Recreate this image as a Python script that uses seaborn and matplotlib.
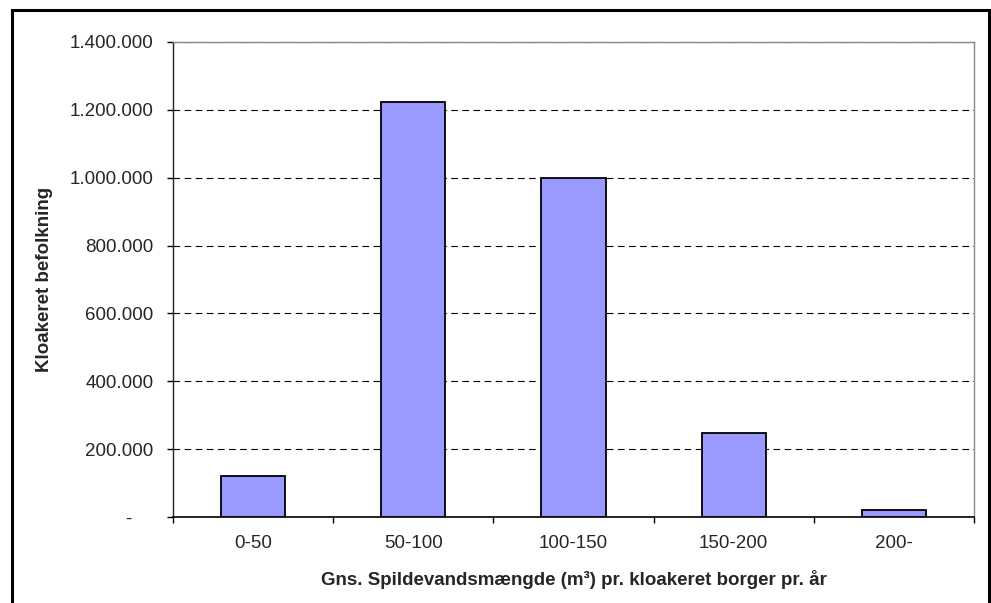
import matplotlib
matplotlib.use("Agg")
import matplotlib.pyplot as plt
from matplotlib.patches import Rectangle
from matplotlib.ticker import FuncFormatter, FixedLocator
import seaborn as sns
import pandas as pd

categories = ["0-50", "50-100", "100-150", "150-200", "200-"]
population = [122000, 1223000, 1000000, 247000, 22000]
y_ticks = [0, 200000, 400000, 600000, 800000, 1000000, 1200000, 1400000]

sns.set_style("white")
plt.rcParams["font.family"] = ["Liberation Sans", "DejaVu Sans"]
FS = 13.5

df = pd.DataFrame({"interval": categories, "befolkning": population})

fig = plt.figure(figsize=(9.91, 6.03), dpi=100)
ax = fig.add_axes([173 / 991, 1 - 517 / 603, (974 - 173) / 991, (517 - 42) / 603])

sns.barplot(data=df, x="interval", y="befolkning", ax=ax, width=0.4,
            color="#9999FF", saturation=1, edgecolor="black", linewidth=1.3,
            zorder=3)

ax.set_xlim(-0.5, len(categories) - 0.5)
ax.set_ylim(0, 1400000)
ax.set_yticks(y_ticks)


def fmt(v, pos):
    if v == 0:
        return "-    "
    return f"{int(v):,}".replace(",", ".")


ax.yaxis.set_major_formatter(FuncFormatter(fmt))

ax.set_axisbelow(True)
ax.yaxis.grid(True, color="black", linestyle=(0, (6, 4)), linewidth=0.8)
ax.xaxis.grid(False)

# category boundaries as outward tick marks
ax.xaxis.set_minor_locator(FixedLocator([i - 0.5 for i in range(len(categories) + 1)]))
ax.tick_params(axis="x", which="major", length=0, pad=13, labelsize=FS)
ax.tick_params(axis="x", which="minor", length=4.5, width=1, color="black",
               direction="out", bottom=True)
ax.tick_params(axis="y", which="major", length=4, width=1, color="black",
               direction="out", left=True, pad=10, labelsize=FS)

for side in ["top", "right"]:
    ax.spines[side].set_color("#888888")
    ax.spines[side].set_linewidth(1)
ax.spines["left"].set_color("#222222")
ax.spines["left"].set_linewidth(1)
ax.spines["bottom"].set_color("black")
ax.spines["bottom"].set_linewidth(1.2)
for s in ax.spines.values():
    s.set_visible(True)

ax.set_ylabel("Kloakeret befolkning", fontsize=FS, fontweight="bold", labelpad=12)
ax.set_xlabel("Gns. Spildevandsmængde (m³) pr. kloakeret borger pr. år",
              fontsize=FS, fontweight="bold", labelpad=13)

# outer frame of the figure
fig.patches.append(Rectangle((12 / 991, -0.2), (989 - 12) / 991, 1.2 - 10 / 603,
                             transform=fig.transFigure, fill=False,
                             edgecolor="black", linewidth=2.2))

fig.savefig("out.png", dpi=100)
